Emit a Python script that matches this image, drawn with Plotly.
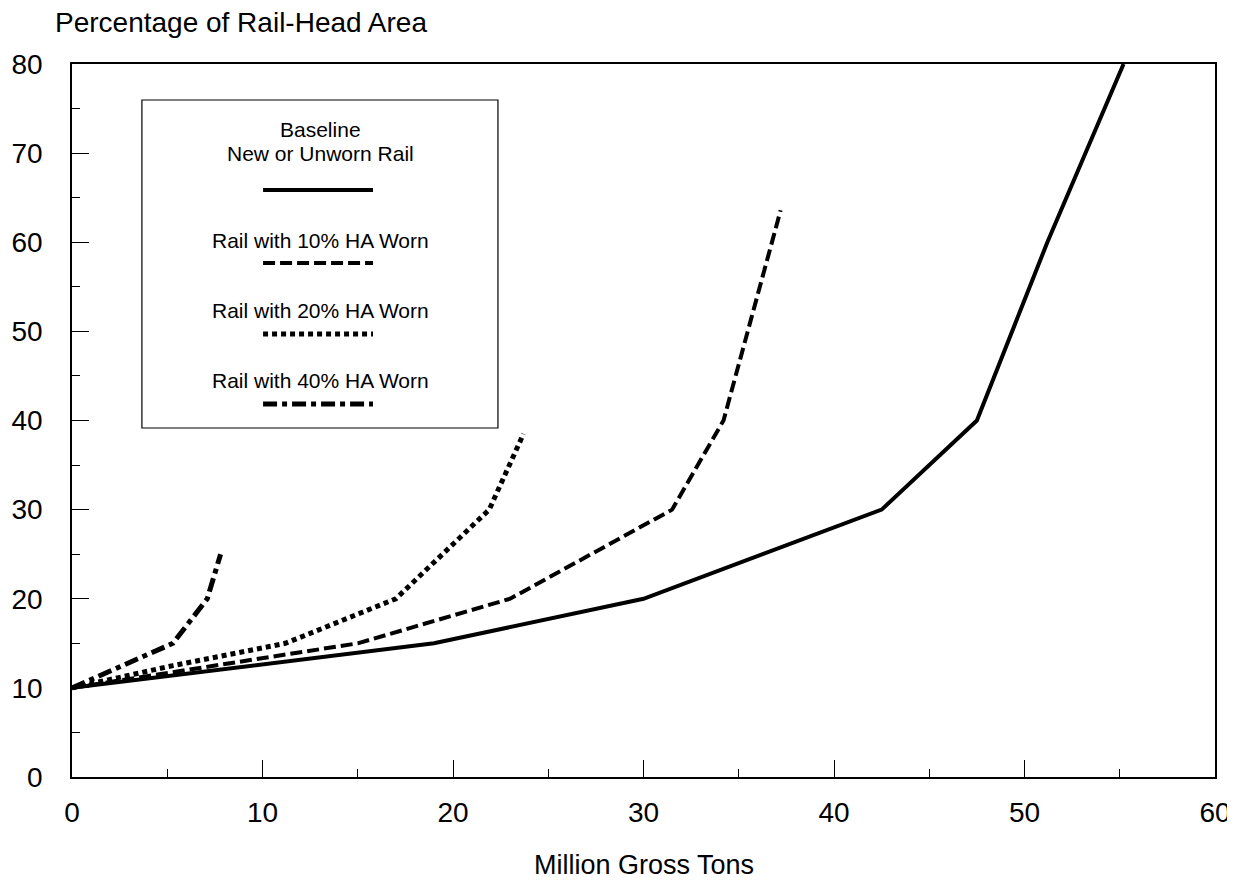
import plotly.graph_objects as go

# Data
baseline_x = [0, 19, 30, 42.5, 47.5, 51.2, 55.2]
baseline_y = [10, 15, 20, 30, 40, 60, 80]

worn10_x = [0, 15, 23, 31.5, 34.2, 37.2]
worn10_y = [10, 15, 20, 30, 40, 63.6]

worn20_x = [0, 5.3, 11.2, 17, 21.9, 23.7]
worn20_y = [10, 12.5, 15, 20, 30, 38.5]

worn40_x = [0, 5.3, 7.1, 7.8]
worn40_y = [10, 15, 20, 25]

series_names = ["Baseline<br>New or Unworn Rail", "Rail with 10% HA Worn",
                "Rail with 20% HA Worn", "Rail with 40% HA Worn"]
x_ticks = [0, 10, 20, 30, 40, 50, 60]
y_ticks = [0, 10, 20, 30, 40, 50, 60, 70, 80]

FONT = "Arial, Liberation Sans, Helvetica, sans-serif"
styles = [
    dict(width=4, dash="solid"),
    dict(width=4, dash="12px,5px"),
    dict(width=5, dash="5px,4px"),
    dict(width=5, dash="14px,5px,5px,5px"),
]

fig = go.Figure()
data = [(baseline_x, baseline_y), (worn10_x, worn10_y), (worn20_x, worn20_y), (worn40_x, worn40_y)]
for (xs, ys), name, st in zip(data, series_names, styles):
    fig.add_trace(go.Scatter(x=xs, y=ys, mode="lines", name=name,
                             line=dict(color="black", width=st["width"], dash=st["dash"]),
                             showlegend=False))

# Manual legend box (text above line samples)
fig.add_shape(type="rect", xref="x", yref="y", x0=3.67, x1=22.36, y0=39.16, y1=75.96,
              line=dict(color="black", width=1.2), fillcolor="white", layer="below")
legend_line_y = [65.86, 57.67, 49.7, 41.85]
legend_lines_text = [["Baseline", "New or Unworn Rail"], ["Rail with 10% HA Worn"],
                     ["Rail with 20% HA Worn"], ["Rail with 40% HA Worn"]]
legend_text_y = [[72.6, 69.98], [60.25], [52.3], [44.45]]
for texts, st, ly, tys in zip(legend_lines_text, styles, legend_line_y, legend_text_y):
    fig.add_shape(type="line", xref="x", yref="y", x0=10.03, x1=15.8, y0=ly, y1=ly,
                  line=dict(color="black", width=st["width"], dash=st["dash"]))
    for t, ty in zip(texts, tys):
        fig.add_annotation(x=13.02, y=ty, xref="x", yref="y", text=t, showarrow=False,
                           font=dict(family=FONT, size=21, color="black"),
                           xanchor="center", yanchor="middle", align="center")

fig.add_annotation(x=0.1479, y=1.0582, xref="paper", yref="paper",
                   text="Percentage of Rail-Head Area", showarrow=False,
                   xanchor="center", yanchor="middle",
                   font=dict(family=FONT, size=28, color="black"))
fig.add_annotation(x=0.5, y=-0.1234, xref="paper", yref="paper",
                   text="Million Gross Tons", showarrow=False,
                   xanchor="center", yanchor="middle",
                   font=dict(family=FONT, size=27, color="black"))

fig.update_layout(
    width=1227, height=872,
    margin=dict(l=64, r=20, t=56, b=103),
    plot_bgcolor="white", paper_bgcolor="white",
    font=dict(family=FONT, color="black"),
    showlegend=False,
    xaxis=dict(range=[0, 60], tickvals=x_ticks, ticks="inside", ticklen=17, tickwidth=1.3,
               tickcolor="black", showgrid=False, zeroline=False, showline=True,
               linecolor="black", linewidth=1.5, mirror=True, automargin=False,
               ticklabeloverflow="allow",
               tickfont=dict(family=FONT, size=28, color="black"), ticklabelstandoff=10,
               minor=dict(dtick=5, ticks="inside", ticklen=8, tickcolor="black", tickwidth=1.3)),
    yaxis=dict(range=[0, 80], tickvals=y_ticks, ticks="inside", ticklen=17, tickwidth=1.3,
               tickcolor="black", showgrid=False, zeroline=False, showline=True,
               linecolor="black", linewidth=1.5, mirror=True, automargin=False,
               ticklabeloverflow="allow",
               tickfont=dict(family=FONT, size=28, color="black"), ticklabelstandoff=22,
               minor=dict(dtick=5, ticks="inside", ticklen=8, tickcolor="black", tickwidth=1.3)),
)

fig.write_html("out.html")
